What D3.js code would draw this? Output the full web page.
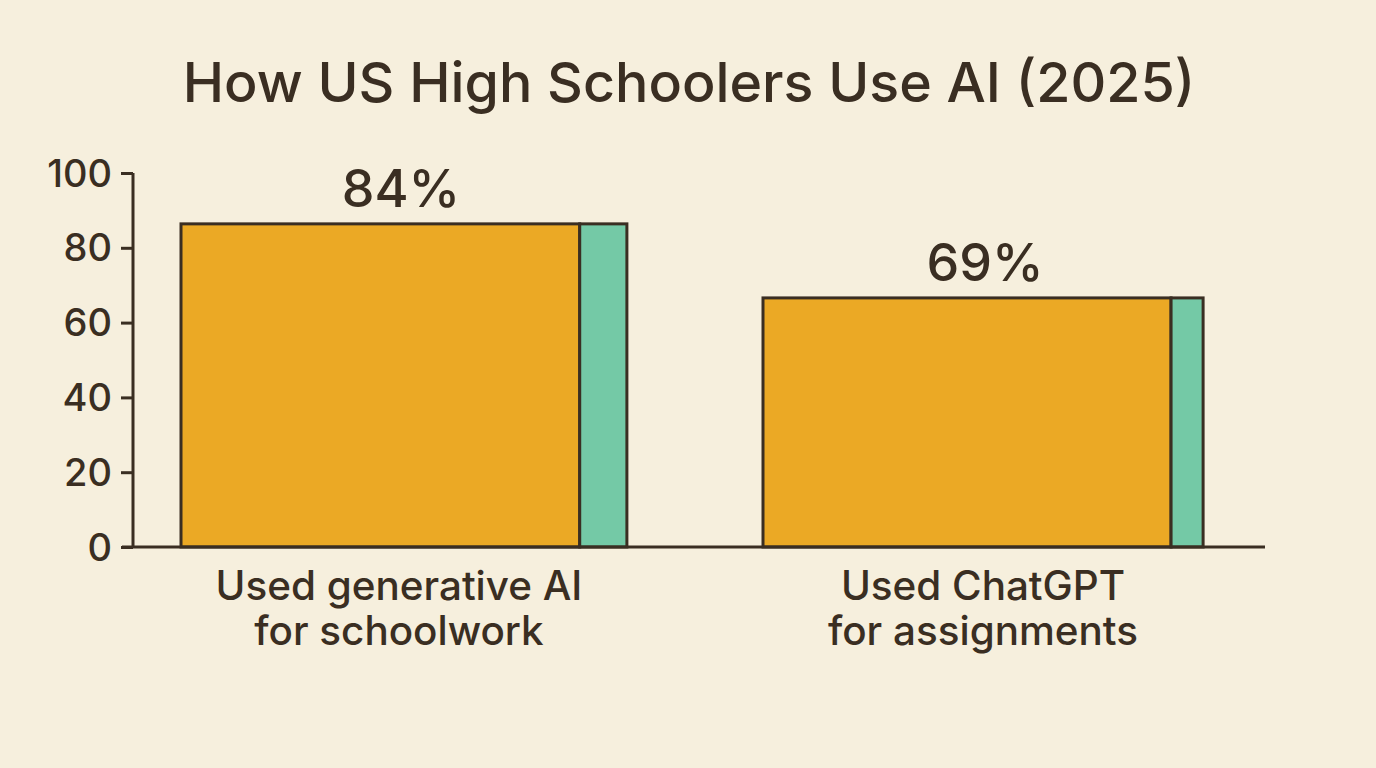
<!DOCTYPE html>
<html>
<head>
<meta charset="utf-8">
<script src="https://cdn.jsdelivr.net/npm/d3@7"></script>
<style>
  html, body { margin: 0; padding: 0; background: #f6efdd; }
  text { font-family: "Inter", sans-serif; font-weight: 500; fill: #3a2e22; }
</style>
</head>
<body>
<div id="chart"></div>
<script>
"use strict";

var categories  = ["generative", "chatgpt"];
var catLines    = [["Used generative AI", "for schoolwork"], ["Used ChatGPT", "for assignments"]];
var barLabels   = ["84%", "69%"];
var barHeights  = [86.4, 66.6];   // height as drawn on the y axis
var orangeParts = [89.6, 91.7];   // widths of the two parts of a bar
var greenParts  = [10.6, 7.2];
var yTicks      = [0, 20, 40, 60, 80, 100];

var width  = 1376;
var height = 768;
var ink    = "#3a2e22";
var lineW  = 3;

var svg = d3.select("#chart").append("svg")
  .attr("width", width)
  .attr("height", height)
  .style("display", "block");

svg.append("rect")
  .attr("width", width)
  .attr("height", height)
  .attr("fill", "#f6efdd");

var y = d3.scaleLinear().domain([0, 100]).range([547, 173]);

var x      = d3.scalePoint().domain(categories).range([181, 763]);
var xValue = d3.scalePoint().domain(categories).range([401, 985]);
var xLabel = d3.scalePoint().domain(categories).range([399, 983]);

var partWidth = d3.scaleLinear().domain([0, 100]).range([0, 445]);

svg.append("text")
  .attr("x", 689)
  .attr("y", 102)
  .attr("text-anchor", "middle")
  .attr("font-size", 55.5)
  .text("How US High Schoolers Use AI (2025)");

// y axis
var yAxis = d3.axisLeft(y)
  .tickValues(yTicks)
  .tickSize(12)
  .tickPadding(9);

var yG = svg.append("g")
  .attr("transform", "translate(133,0)")
  .call(yAxis);
yG.select(".domain").attr("stroke", ink).attr("stroke-width", lineW).attr("d", "M0," + y(100) + "V" + y(0));
yG.selectAll("line").attr("stroke", ink).attr("stroke-width", lineW);
yG.selectAll("text")
  .attr("font-size", 38)
  .attr("font-family", '"Inter", sans-serif')
  .attr("fill", ink)
  .attr("transform", "translate(0,1)");

// bars
var bars = svg.selectAll(".bar")
  .data(categories)
  .enter().append("g")
  .attr("class", "bar");

bars.append("rect")
  .attr("x", function(d) { return x(d); })
  .attr("y", function(d, i) { return y(barHeights[i]); })
  .attr("width", function(d, i) { return partWidth(orangeParts[i]); })
  .attr("height", function(d, i) { return y(0) - y(barHeights[i]); })
  .attr("fill", "#eba925")
  .attr("stroke", ink)
  .attr("stroke-width", lineW);

bars.append("rect")
  .attr("x", function(d, i) { return x(d) + partWidth(orangeParts[i]); })
  .attr("y", function(d, i) { return y(barHeights[i]); })
  .attr("width", function(d, i) { return partWidth(greenParts[i]); })
  .attr("height", function(d, i) { return y(0) - y(barHeights[i]); })
  .attr("fill", "#74c9a6")
  .attr("stroke", ink)
  .attr("stroke-width", lineW);

bars.append("text")
  .attr("x", function(d) { return xValue(d); })
  .attr("y", function(d, i) { return y(barHeights[i]) - 17; })
  .attr("text-anchor", "middle")
  .attr("font-size", 52)
  .text(function(d, i) { return barLabels[i]; });

// baseline
svg.append("line")
  .attr("x1", 122)
  .attr("x2", 1265)
  .attr("y1", y(0))
  .attr("y2", y(0))
  .attr("stroke", ink)
  .attr("stroke-width", lineW);

// category labels
bars.each(function(d, i) {
  var g = d3.select(this);
  catLines[i].forEach(function(line, j) {
    g.append("text")
      .attr("x", xLabel(d))
      .attr("y", 600 + j * 45)
      .attr("text-anchor", "middle")
      .attr("font-size", 40.4)
      .text(line);
  });
});
</script>
</body>
</html>
